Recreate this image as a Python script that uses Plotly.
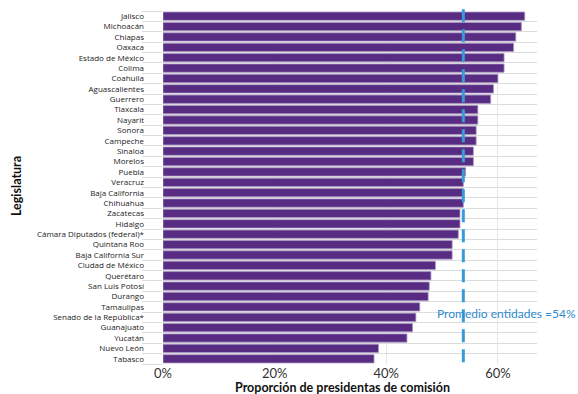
import plotly.graph_objects as go

estados = ["Jalisco", "Michoacán", "Chiapas", "Oaxaca", "Estado de México", "Colima",
           "Coahuila", "Aguascalientes", "Guerrero", "Tlaxcala", "Nayarit", "Sonora",
           "Campeche", "Sinaloa", "Morelos", "Puebla", "Veracruz", "Baja California",
           "Chihuahua", "Zacatecas", "Hidalgo", "Cámara Diputados (federal)*",
           "Quintana Roo", "Baja California Sur", "Ciudad de México", "Querétaro",
           "San Luis Potosí", "Durango", "Tamaulipas", "Senado de la República*",
           "Guanajuato", "Yucatán", "Nuevo León", "Tabasco"]
proporcion = [0.648, 0.642, 0.632, 0.628, 0.611, 0.611,
              0.600, 0.592, 0.587, 0.564, 0.564, 0.561,
              0.561, 0.556, 0.556, 0.542, 0.538, 0.538,
              0.538, 0.532, 0.532, 0.529,
              0.518, 0.518, 0.488, 0.480,
              0.477, 0.475, 0.460, 0.453,
              0.447, 0.437, 0.386, 0.378]
promedio = 0.538
promedio_label = "Promedio entidades =54%"
x_ticks = [0, 0.2, 0.4, 0.6]

PURPLE = "#582C83"
BLUE = "#3A9AD9"
FONT = "Lato"
TICKFONT = "Open Sans"

fig = go.Figure()
fig.add_trace(go.Bar(
    x=proporcion, y=estados, orientation="h",
    marker=dict(color=PURPLE, line=dict(color="#a995c2", width=0.8)),
    hoverinfo="skip",
))

fig.add_shape(type="line", xref="x", yref="paper", x0=promedio, x1=promedio, y0=1.005, y1=0,
              line=dict(color=BLUE, width=3, dash="13px,7px"))

fig.add_annotation(x=promedio, y="Senado de la República*", xref="x", yref="y",
                   text=promedio_label, showarrow=False, xanchor="left", yanchor="middle",
                   xshift=-28, yshift=4,
                   font=dict(family=FONT, size=12, color="#2F8BD0"))

fig.add_annotation(x=0.479, y=0, xref="paper", yref="paper", yshift=-23,
                   text="<b>Proporción de presidentas de comisión</b>", showarrow=False,
                   xanchor="center", yanchor="middle",
                   font=dict(family=FONT, size=12.5, color="#111"))
fig.add_annotation(x=0, y=0.504, xref="paper", yref="paper", xshift=-147,
                   text="<b>Legislatura</b>", showarrow=False, textangle=-90,
                   xanchor="center", yanchor="middle",
                   font=dict(family=FONT, size=12.5, color="#111"))

fig.update_layout(
    width=578, height=394,
    margin=dict(l=163, r=41, t=11, b=30, autoexpand=False),
    paper_bgcolor="white", plot_bgcolor="white",
    bargap=0.2, showlegend=False,
    font=dict(family=FONT),
    xaxis=dict(range=[0, 0.67], tickvals=x_ticks, tickformat=".0%",
               showgrid=True, gridcolor="#e6e6e6", gridwidth=1, zeroline=False,
               showline=False, ticks="", tickfont=dict(family=FONT, size=13, color="#333")),
    yaxis=dict(type="category", autorange="reversed", tickson="boundaries",
               tickmode="array", tickvals=estados,
               ticks="outside", ticklen=20, tickcolor="#dcdcdc", tickwidth=1,
               ticklabelstandoff=18,
               showgrid=True, gridcolor="#dcdcdc", gridwidth=1, showline=False,
               zeroline=False, tickfont=dict(family=TICKFONT, size=8, color="#222")),
)

fig.write_html("out.html", config={"displayModeBar": False},
               post_script="document.body.style.margin='0';document.body.style.overflow='hidden';")
